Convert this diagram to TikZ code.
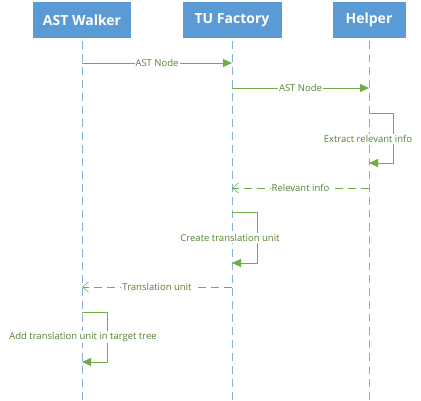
\documentclass[tikz,border=0pt]{standalone}
\usepackage{fontspec}
\setmainfont{Open Sans}
\usetikzlibrary{arrows.meta}
\definecolor{boxblue}{HTML}{5B9BD5}
\definecolor{lifeblue}{HTML}{7FB0DE}
\definecolor{msggreen}{HTML}{70AD47}
\definecolor{txtgreen}{HTML}{548235}
\begin{document}
\begin{tikzpicture}[x=1pt,y=-1pt,
  actor/.style={fill=boxblue,draw=none,text=white,font=\bfseries\fontsize{14}{16}\selectfont,minimum height=36pt,inner sep=0pt},
  life/.style={draw=lifeblue,line width=1pt,dash pattern=on 8pt off 5pt},
  msg/.style={draw=msggreen,line width=0.8pt,-{Triangle[length=9pt,width=8pt]}},
  ret/.style={draw=msggreen,line width=0.8pt,dash pattern=on 8pt off 5pt,-{Straight Barb[length=6pt,width=10pt,line width=0.6pt]}},
  lbl/.style={fill=white,text=txtgreen,font=\fontsize{9.5}{11}\selectfont,inner sep=1pt}]
\useasboundingbox (0,0) rectangle (421,401);
% actors
\node[actor,minimum width=98pt] (aw) at (82,20) {AST Walker};
\node[actor,minimum width=99pt] (tu) at (232,20) {TU Factory};
\node[actor,minimum width=73pt] (hp) at (369,20) {Helper};
% lifelines
\coordinate (awe) at (82,401);
\coordinate (tue) at (232,401);
\coordinate (hpe) at (369,401);
\draw[life] (aw.south) ++(0,3) -- (awe);
\draw[life] (tu.south) ++(0,3) -- (tue);
\draw[life] (hp.south) ++(0,3) -- (hpe);
% message 1
\coordinate (m1a) at (82,63); \coordinate (m1b) at (232,63);
\draw[msg] (m1a) -- node[lbl] {AST Node} (m1b);
% message 2
\coordinate (m2a) at (232,88); \coordinate (m2b) at (369,88);
\draw[msg] (m2a) -- node[lbl] {AST Node} (m2b);
% self helper
\coordinate (s1a) at (369,113); \coordinate (s1b) at (369,163);
\draw[msg] (s1a) -- ++(24,0) |- (s1b);
\node[lbl] (s1l) at (368,139) {Extract relevant info};
% return relevant info
\coordinate (r1a) at (369,188); \coordinate (r1b) at (232,188);
\draw[ret] (r1a) -- node[lbl] {Relevant info} (r1b);
% self TU
\coordinate (s2a) at (232,212); \coordinate (s2b) at (232,263);
\draw[msg] (s2a) -- ++(25,0) |- (s2b);
\node[lbl] (s2l) at (230,238) {Create translation unit};
% return translation unit
\coordinate (r2a) at (232,287); \coordinate (r2b) at (82,287);
\draw[ret] (r2a) -- node[lbl] {Translation unit} (r2b);
% self walker
\coordinate (s3a) at (82,312); \coordinate (s3b) at (82,362);
\draw[msg] (s3a) -- ++(25,0) |- (s3b);
\node[lbl] (s3l) at (83,337) {Add translation unit in target tree};
\end{tikzpicture}
\end{document}
